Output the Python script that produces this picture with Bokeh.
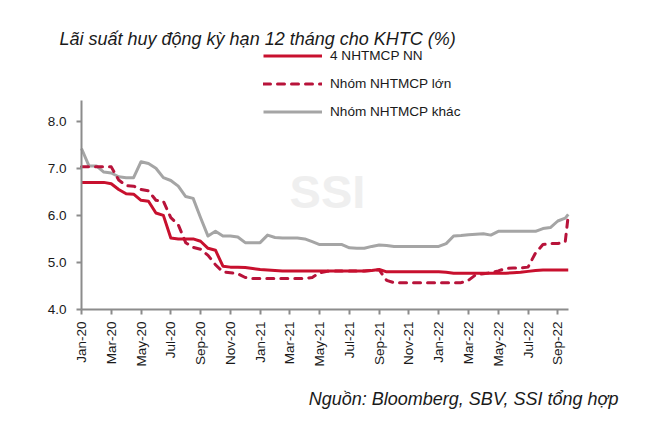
import numpy as np
from bokeh.plotting import figure
from bokeh.models import Range1d, FixedTicker, Label, Legend, LegendItem
from bokeh.embed import file_html
from bokeh.resources import INLINE

# ---- data (months since Jan-2020, half-month steps, last point late Sep-2022)
months = list(np.arange(0, 33, 0.5)) + [32.7]

tick_months = [0, 2, 4, 6, 8, 10, 12, 14, 16, 18, 20, 22, 24, 26, 28, 30, 32]
tick_labels = ["Jan-20", "Mar-20", "May-20", "Jul-20", "Sep-20", "Nov-20",
               "Jan-21", "Mar-21", "May-21", "Jul-21", "Sep-21", "Nov-21",
               "Jan-22", "Mar-22", "May-22", "Jul-22", "Sep-22"]
y_ticks = [4, 5, 6, 7, 8]
y_labels = ["4.0", "5.0", "6.0", "7.0", "8.0"]

state_banks = [6.70, 6.70, 6.70, 6.70, 6.67, 6.55, 6.46, 6.45, 6.32, 6.30,
               6.05, 6.00, 5.52, 5.50, 5.50, 5.50, 5.45, 5.30, 5.26, 4.92,
               4.90, 4.90, 4.89, 4.87, 4.85, 4.84, 4.83, 4.82, 4.82, 4.82,
               4.82, 4.82, 4.82, 4.82, 4.82, 4.82, 4.82, 4.82, 4.82, 4.83,
               4.85, 4.80, 4.80, 4.80, 4.80, 4.80, 4.80, 4.80, 4.80, 4.79,
               4.77, 4.77, 4.77, 4.77, 4.77, 4.77, 4.77, 4.77, 4.78, 4.79,
               4.81, 4.83, 4.84, 4.84, 4.84, 4.84, 4.84]

large_banks = [7.03, 7.03, 7.03, 7.03, 7.03, 6.75, 6.63, 6.62, 6.55, 6.52,
               6.32, 6.30, 5.95, 5.80, 5.42, 5.32, 5.28, 5.15, 4.95, 4.80,
               4.78, 4.76, 4.68, 4.66, 4.66, 4.66, 4.66, 4.66, 4.66, 4.66,
               4.66, 4.68, 4.78, 4.81, 4.82, 4.82, 4.82, 4.82, 4.82, 4.83,
               4.84, 4.62, 4.57, 4.57, 4.57, 4.57, 4.57, 4.57, 4.57, 4.57,
               4.57, 4.57, 4.62, 4.74, 4.76, 4.78, 4.82, 4.87, 4.88, 4.88,
               4.90, 5.20, 5.38, 5.40, 5.40, 5.44, 6.00]

other_banks = [7.42, 7.05, 7.05, 6.92, 6.90, 6.82, 6.80, 6.80, 7.14, 7.10,
               7.00, 6.80, 6.74, 6.62, 6.40, 6.36, 5.95, 5.56, 5.66, 5.56,
               5.56, 5.54, 5.42, 5.42, 5.42, 5.58, 5.53, 5.52, 5.52, 5.52,
               5.50, 5.44, 5.38, 5.38, 5.38, 5.38, 5.31, 5.30, 5.30, 5.34,
               5.37, 5.36, 5.34, 5.34, 5.34, 5.34, 5.34, 5.34, 5.34, 5.40,
               5.56, 5.57, 5.59, 5.60, 5.61, 5.58, 5.66, 5.66, 5.66, 5.66,
               5.66, 5.66, 5.72, 5.74, 5.88, 5.94, 6.02]

series_names = ["4 NHTMCP NN", "Nhóm NHTMCP lớn", "Nhóm NHTMCP khác"]
title_text = "Lãi suất huy động kỳ hạn 12 tháng cho KHTC (%)"
source_text = "Nguồn:  Bloomberg, SBV, SSI tổng hợp"

FONT = "Liberation Sans"
RED = "#c8102e"
RED2 = "#b8133a"
GRAY = "#a5a5a5"
AXIS = "#8c8c8c"
TXT = "#1a1a1a"

W, H = 660, 420
X0_PX, PX_PER_MONTH = 81.0, 14.885
Y4_PX, PX_PER_UNIT = 309.0, 47.075

x_start = -X0_PX / PX_PER_MONTH
x_end = (W - X0_PX) / PX_PER_MONTH
y_end = 4 + Y4_PX / PX_PER_UNIT
y_start = 4 - (H - Y4_PX) / PX_PER_UNIT

p = figure(width=W, height=H, output_backend="svg", toolbar_location=None,
           x_range=Range1d(x_start, x_end), y_range=Range1d(y_start, y_end),
           min_border=0, title=None)
p.outline_line_color = None
p.xgrid.visible = False
p.ygrid.visible = False
p.background_fill_color = "white"
p.border_fill_color = "white"

r_other = p.line(months, other_banks, line_color=GRAY, line_width=3, line_join="round")
r_large = p.line(months, large_banks, line_color=RED2, line_width=3,
                 line_dash="7 7", line_cap="round", line_join="round")
r_state = p.line(months, state_banks, line_color=RED, line_width=3, line_join="round")

for ax in (p.xaxis[0], p.yaxis[0]):
    ax.axis_line_color = AXIS
    ax.axis_line_width = 2
    ax.major_tick_line_color = AXIS
    ax.major_tick_line_width = 2
    ax.major_tick_out = 5
    ax.major_tick_in = 0
    ax.minor_tick_line_color = None
    ax.major_label_text_font = FONT
    ax.major_label_text_font_size = "13.5px"
    ax.major_label_text_color = TXT

p.xaxis.fixed_location = 4.0
p.xaxis.bounds = (0, 32.72)
p.xaxis.ticker = FixedTicker(ticks=tick_months)
p.xaxis.major_label_overrides = {m: l for m, l in zip(tick_months, tick_labels)}
p.xaxis.major_label_orientation = np.pi / 2
p.xaxis.major_label_standoff = 7

p.yaxis.fixed_location = 0
p.yaxis.bounds = (4.0, 8.45)
p.yaxis.ticker = FixedTicker(ticks=y_ticks)
p.yaxis.major_label_overrides = {t: l for t, l in zip(y_ticks, y_labels)}
p.yaxis.major_label_standoff = 10

def px_to_x(px):
    return (px - X0_PX) / PX_PER_MONTH

def py_to_y(py):
    return 4 + (Y4_PX - py) / PX_PER_UNIT

# watermark
p.add_layout(Label(x=px_to_x(327), y=py_to_y(191), text="SSI", text_font=FONT,
                   text_font_style="bold", text_font_size="47px",
                   text_color="#efefef", text_align="center",
                   text_baseline="alphabetic", level="underlay"))

# title and source
p.add_layout(Label(x=px_to_x(59), y=py_to_y(38), text=title_text,
                   text_font=FONT, text_font_style="italic", text_font_size="18px",
                   text_color=TXT, text_align="left", text_baseline="alphabetic"))
p.add_layout(Label(x=px_to_x(623), y=py_to_y(398), text=source_text,
                   text_font=FONT, text_font_style="italic", text_font_size="18px",
                   text_color=TXT, text_align="right", text_baseline="alphabetic"))

legend = Legend(items=[LegendItem(label=series_names[0], renderers=[r_state]),
                       LegendItem(label=series_names[1], renderers=[r_large]),
                       LegendItem(label=series_names[2], renderers=[r_other])],
                location=(263, H - 121.5), orientation="vertical",
                glyph_width=59, glyph_height=21, label_height=21, spacing=7,
                label_standoff=8, padding=0, margin=0,
                border_line_color=None, background_fill_alpha=0,
                label_text_font=FONT, label_text_font_size="13.6px",
                label_text_color=TXT)
p.add_layout(legend, "center")

open("out.html", "w").write(file_html(p, INLINE))
